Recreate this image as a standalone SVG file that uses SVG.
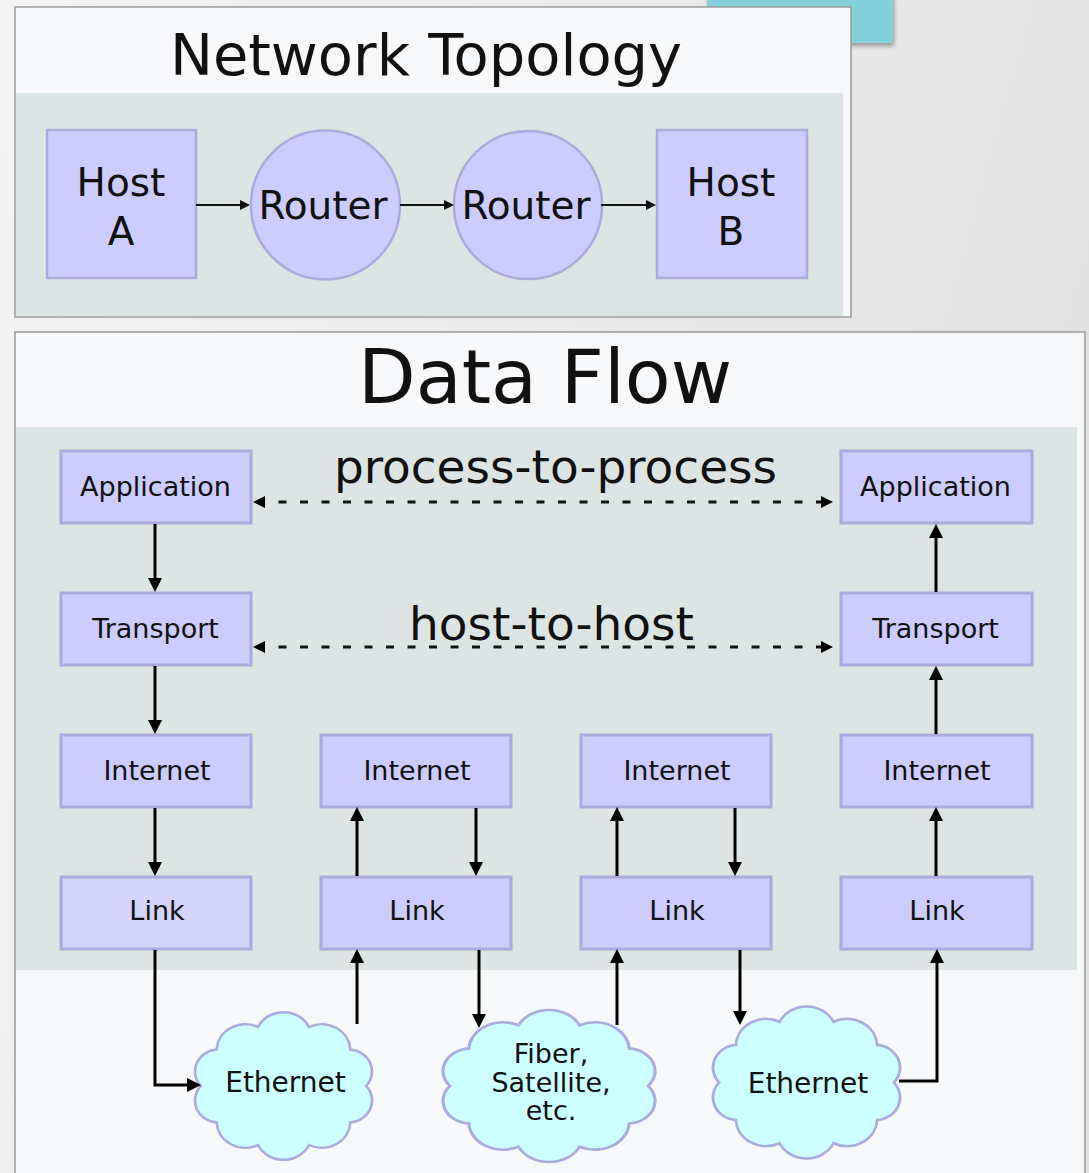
<svg xmlns="http://www.w3.org/2000/svg" width="1089" height="1173" viewBox="0 0 1089 1173">
<defs>
<linearGradient id="bg" x1="0" y1="0" x2="1" y2="0.3">
<stop offset="0" stop-color="#f4f4f4"/>
<stop offset="1" stop-color="#e2e2e2"/>
</linearGradient>
<filter id="sh" x="-10%" y="-10%" width="130%" height="140%">
<feDropShadow dx="1" dy="3" stdDeviation="2" flood-color="#000" flood-opacity="0.35"/>
</filter>
<marker id="ah" markerUnits="userSpaceOnUse" markerWidth="16" markerHeight="16" refX="10" refY="7" orient="auto">
<path d="M0,0 L14,7 L0,14 z" fill="#000"/>
</marker>
<marker id="ahs" markerUnits="userSpaceOnUse" markerWidth="14" markerHeight="14" refX="7" refY="5" orient="auto">
<path d="M0,0 L10,5 L0,10 z" fill="#111"/>
</marker>
<marker id="ahd" markerUnits="userSpaceOnUse" markerWidth="16" markerHeight="16" refX="8" refY="6" orient="auto-start-reverse">
<path d="M0,0 L12,6 L0,12 z" fill="#000"/>
</marker>
<path id="cloud" d="M-24.1,-59 A27,27 0 0 1 24.1,-59 A27,27 0 0 1 63.1,-36.5 A22,22 0 0 1 78,0 A22,22 0 0 1 63.1,36.5 A27,27 0 0 1 24.1,59 A27,27 0 0 1 -24.1,59 A27,27 0 0 1 -63.1,36.5 A22,22 0 0 1 -78,0 A22,22 0 0 1 -63.1,-36.5 A27,27 0 0 1 -24.1,-59 Z"/>
</defs>
<style>
.t{font-family:"DejaVu Sans","Liberation Sans",sans-serif;fill:#111;text-anchor:middle}
.box{fill:#ccccff;stroke:#aaaadd;stroke-width:3}
.tbox{fill:#ccccff;stroke:#aaaadd;stroke-width:2.5}
.cl{fill:#ccffff;stroke:#aaaadd;stroke-width:2.5}
.panel{fill:#f7f8fa;stroke:#9a9a9a;stroke-width:1.5}
.band{fill:#dce4e4}
.c{fill:none;stroke:#000;stroke-width:3}
.cs{fill:none;stroke:#111;stroke-width:2}
.d{fill:none;stroke:#111;stroke-width:3;stroke-dasharray:8 13.5}
.lbl{font-size:27px}
</style>
<rect x="0" y="0" width="1089" height="1173" fill="url(#bg)"/>
<rect x="707" y="-5" width="186" height="48" fill="#84d0dc" filter="url(#sh)"/>

<g id="panel-topology">
<rect class="panel" x="15" y="7" width="836" height="310"/>
<rect class="band" x="16" y="93" width="827" height="223"/>
<text class="t" x="426" y="75" font-size="57.5">Network Topology</text>
</g>
<g id="host-a">
<rect class="tbox" x="47" y="130" width="149" height="148"/>
<text class="t" x="121" y="196" font-size="39">Host</text>
<text class="t" x="121" y="245" font-size="39">A</text>
</g>
<g id="router-1">
<circle class="tbox" cx="325.5" cy="205" r="74.5"/>
<text class="t" x="323" y="219" font-size="39">Router</text>
</g>
<g id="router-2">
<circle class="tbox" cx="528" cy="205" r="74"/>
<text class="t" x="526" y="219" font-size="39">Router</text>
</g>
<g id="host-b">
<rect class="tbox" x="657" y="130" width="150" height="148"/>
<text class="t" x="731" y="196" font-size="39">Host</text>
<text class="t" x="731" y="245" font-size="39">B</text>
</g>

<g id="panel-dataflow">
<rect class="panel" x="15" y="332" width="1070" height="850"/>
<rect class="band" x="16" y="427" width="1061" height="543"/>
<text class="t" x="545" y="403" font-size="75">Data Flow</text>
<text class="t" x="555.5" y="483" font-size="47">process-to-process</text>
<text class="t" x="551.5" y="640" font-size="47">host-to-host</text>
</g>

<g id="app-1"><rect class="box" x="61" y="451" width="190" height="72"/><text class="t lbl" x="155.5" y="496">Application</text></g>
<g id="transport-1"><rect class="box" x="61" y="593" width="190" height="72"/><text class="t lbl" x="155.5" y="638">Transport</text></g>
<g id="internet-1"><rect class="box" x="61" y="735" width="190" height="72"/><text class="t lbl" x="157" y="780">Internet</text></g>
<g id="link-1"><rect class="box" x="61" y="877" width="190" height="72" style="fill:#d3d3fd"/><text class="t lbl" x="157" y="920">Link</text></g>

<g id="internet-2"><rect class="box" x="321" y="735" width="190" height="72"/><text class="t lbl" x="417" y="780">Internet</text></g>
<g id="link-2"><rect class="box" x="321" y="877" width="190" height="72"/><text class="t lbl" x="417" y="920">Link</text></g>

<g id="internet-3"><rect class="box" x="581" y="735" width="190" height="72"/><text class="t lbl" x="677" y="780">Internet</text></g>
<g id="link-3"><rect class="box" x="581" y="877" width="190" height="72"/><text class="t lbl" x="677" y="920">Link</text></g>

<g id="app-4"><rect class="box" x="841" y="451" width="191" height="72"/><text class="t lbl" x="935.5" y="496">Application</text></g>
<g id="transport-4"><rect class="box" x="841" y="593" width="191" height="72"/><text class="t lbl" x="935.5" y="638">Transport</text></g>
<g id="internet-4"><rect class="box" x="841" y="735" width="191" height="72"/><text class="t lbl" x="937" y="780">Internet</text></g>
<g id="link-4"><rect class="box" x="841" y="877" width="191" height="72"/><text class="t lbl" x="937" y="920">Link</text></g>

<g id="ethernet-1">
<use href="#cloud" class="cl" transform="translate(283.5,1086) scale(1.06,1)" vector-effect="non-scaling-stroke"/>
<text class="t" x="285.5" y="1092" font-size="28">Ethernet</text>
</g>
<g id="fiber">
<use href="#cloud" class="cl" transform="translate(549,1086) scale(1.27,1.03)"/>
<text class="t" x="551" y="1063" font-size="27">Fiber,</text>
<text class="t" x="551" y="1092" font-size="27">Satellite,</text>
<text class="t" x="551" y="1120" font-size="27">etc.</text>
</g>
<g id="ethernet-2">
<use href="#cloud" class="cl" transform="translate(806.5,1082.5) scale(1.12,1.03)"/>
<text class="t" x="808" y="1093" font-size="28">Ethernet</text>
</g>

<g id="connectors">
<path class="cs" d="M196,205 H247" marker-end="url(#ahs)"/>
<path class="cs" d="M400,205 H451" marker-end="url(#ahs)"/>
<path class="cs" d="M601,205 H653" marker-end="url(#ahs)"/>

<path class="d" d="M257,502 H829" marker-start="url(#ahd)" marker-end="url(#ahd)"/>
<path class="d" d="M257,647 H829" marker-start="url(#ahd)" marker-end="url(#ahd)"/>

<path class="c" d="M155,524 V588" marker-end="url(#ah)"/>
<path class="c" d="M155,666 V730" marker-end="url(#ah)"/>
<path class="c" d="M155,808 V872" marker-end="url(#ah)"/>

<path class="c" d="M357,876 V811" marker-end="url(#ah)"/>
<path class="c" d="M476,808 V872" marker-end="url(#ah)"/>
<path class="c" d="M617,876 V811" marker-end="url(#ah)"/>
<path class="c" d="M735,808 V872" marker-end="url(#ah)"/>

<path class="c" d="M936,876 V811" marker-end="url(#ah)"/>
<path class="c" d="M936,734 V670" marker-end="url(#ah)"/>
<path class="c" d="M936,592 V528" marker-end="url(#ah)"/>

<path class="c" d="M155,950 V1085 H197" marker-end="url(#ah)"/>
<path class="c" d="M357,1024 V953" marker-end="url(#ah)"/>
<path class="c" d="M479,950 V1024" marker-end="url(#ah)"/>
<path class="c" d="M617,1025 V953" marker-end="url(#ah)"/>
<path class="c" d="M740,950 V1021" marker-end="url(#ah)"/>
<path class="c" d="M899,1081 H937 V953" marker-end="url(#ah)"/>
</g>
</svg>
